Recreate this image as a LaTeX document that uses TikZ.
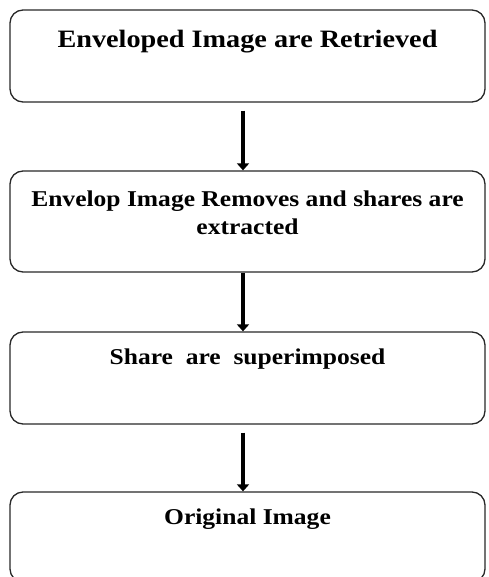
\documentclass[tikz,border=0pt]{standalone}
\usepackage{fontspec}
\setmainfont{Liberation Serif}[FakeStretch=1.13]
\usepackage{tikz}
\usetikzlibrary{calc,arrows.meta,positioning}
\definecolor{boxline}{RGB}{40, 40, 40}

\tikzset{
    stepbox/.style={draw=boxline, line width=1.3pt, rounded corners=13pt,
        minimum width=475pt, inner sep=0pt},
    steptext/.style={anchor=base, align=center, font=\bfseries\fontsize{22.6}{28}\selectfont},
    flowarrow/.style={line width=4.5pt, -{Triangle[length=7pt,width=12pt]}}
}

\begin{document}
\begin{tikzpicture}[x=1pt, y=1pt]
    \useasboundingbox (0,0) rectangle (488,-577);
    
    % Process boxes
    \node[stepbox, minimum height=92pt] (b1) at (247.5,-56) {};
    \node[stepbox, minimum height=101pt] (b2) at (247.5,-221.5) {};
    \node[stepbox, minimum height=92pt] (b3) at (247.5,-378) {};
    \node[stepbox, minimum height=90pt] (b4) at (247.5,-537) {};
    
    % Box texts
    \node[steptext, font=\bfseries\fontsize{25}{30}\selectfont] (t1) at ($(b1.north)+(0,-38)$) {Enveloped Image are Retrieved};
    \node[steptext] (t2) at ($(b2.north)+(0,-64)$) {Envelop Image Removes and shares are\\extracted};
    \node[steptext] (t3) at ($(b3.north)+(0,-33)$) {Share~~are~~superimposed};
    \node[steptext] (t4) at ($(b4.north)+(0,-33)$) {Original Image};
    
    % Arrows
    \draw[flowarrow, shorten <=8pt] ([xshift=-4.5pt]b1.south) -- ([xshift=-4.5pt]b2.north);
    \draw[flowarrow] ([xshift=-4.5pt]b2.south) -- ([xshift=-4.5pt]b3.north);
    \draw[flowarrow, shorten <=8pt] ([xshift=-4.5pt]b3.south) -- ([xshift=-4.5pt]b4.north);
\end{tikzpicture}
\end{document}
